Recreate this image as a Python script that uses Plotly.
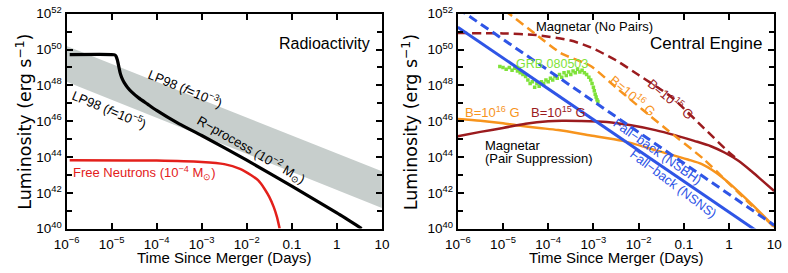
import plotly.graph_objects as go

W, H = 788, 273
# plot-area pixel boxes
L1, R1, L2, R2, T, B = 55, 379, 457, 782, 4, 234

def px(x):
    return x / W

def py(y):
    return 1 - y / H

# ---------------- data (log10 values) ----------------
band_logt = [-6.0, 1.0]
band_up_logL = [50.2, 43.2]
band_lo_logL = [48.2, 41.15]

rproc_logt = [-5.93, -5.0, -4.93, -4.90, -4.87, -4.84, -4.81, -4.77, -4.72, -4.65, -4.55, -4.40, -4.2, -4.0, -3.5, -3.0, -2.0, -1.0, 0.0, 0.55]
rproc_logL = [49.72, 49.72, 49.70, 49.62, 49.40, 49.05, 48.70, 48.40, 48.15, 47.90, 47.62, 47.30, 46.95, 46.60, 45.85, 45.20, 43.82, 42.37, 40.87, 40.0]

neut_logt = [-5.93, -4.0, -3.0, -2.5, -2.15, -1.9, -1.75, -1.6, -1.5, -1.4, -1.33, -1.27]
neut_logL = [43.82, 43.80, 43.72, 43.60, 43.34, 42.98, 42.70, 42.20, 41.77, 41.20, 40.65, 40.0]

nsns_logt = [-6.0, 1.0]
nsns_logL = [51.25, 39.2]
nsbh_logt = [-6.0, 1.0]
nsbh_logL = [52.3, 40.19]

mag16np_logt = [-5.2, -4.88, -4.3, -3.72, -3.06, -2.49, -1.91, -1.41, -0.55, -0.05, 0.5, 0.97, 1.0]
mag16np_logL = [52.65, 52.03, 50.9, 49.8, 49.08, 47.86, 46.64, 45.6, 43.86, 42.64, 41.3, 40.15, 40.08]

mag15np_logt = [-6.0, -5.0, -4.27, -3.5, -3.06, -2.5, -1.99, -1.27, -0.55, 0.02, 0.15]
mag15np_logL = [50.92, 50.9, 50.81, 50.5, 50.12, 49.4, 48.56, 47.34, 45.6, 44.21, 43.95]

mag15ps_logt = [-6.0, -5.5, -5.0, -4.5, -4.0, -3.69, -3.3, -2.70, -2.2, -1.63, -1.2, -0.77, -0.4, -0.1, 0.2, 0.5, 0.75, 1.0]
mag15ps_logL = [45.16, 45.40, 45.62, 45.85, 45.99, 46.02, 46.01, 45.95, 45.78, 45.50, 45.22, 44.90, 44.60, 44.25, 43.80, 43.20, 42.65, 42.10]

mag16ps_logt = [-6.0, -5.5, -5.0, -4.7, -4.2, -3.78, -3.06, -2.35, -1.63, -0.91, -0.6, -0.3, 0.0, 0.3, 0.65, 1.0]
mag16ps_logL = [46.12, 46.02, 45.88, 45.77, 45.62, 45.50, 45.20, 44.90, 44.38, 43.86, 43.60, 43.15, 42.55, 41.85, 41.00, 40.10]

grb_logt = [-5.07, -5.0, -4.93, -4.86, -4.80, -4.74, -4.68, -4.62, -4.56, -4.50, -4.45, -4.40, -4.35, -4.30,
            -4.25, -4.20, -4.15, -4.10, -4.05, -4.00, -3.95, -3.90, -3.85, -3.80, -3.75, -3.70, -3.65, -3.60,
            -3.55, -3.50, -3.45, -3.40, -3.35, -3.30, -3.25, -3.20, -3.15, -3.10, -3.06, -3.03, -3.00, -2.98,
            -2.96, -2.94, -2.92, -2.90]
grb_logL = [49.05, 49.00, 48.90, 49.00, 48.85, 48.95, 48.80, 48.70, 48.60, 48.50, 48.30, 48.10, 48.20, 47.90,
            48.10, 47.95, 48.20, 48.10, 48.30, 48.20, 48.40, 48.30, 48.50, 48.40, 48.60, 48.45, 48.70, 48.55,
            48.75, 48.60, 48.80, 48.70, 48.90, 48.75, 48.85, 48.70, 48.60, 48.45, 48.30, 48.10, 47.90, 47.70,
            47.50, 47.35, 47.20, 47.10]

x_tick_logs = [-6, -5, -4, -3, -2, -1, 0, 1]
x_tick_text = ["10<sup>−6</sup>", "10<sup>−5</sup>", "10<sup>−4</sup>", "10<sup>−3</sup>",
               "10<sup>−2</sup>", "0.1", "1", "10"]
y_major_logs = [40, 42, 44, 46, 48, 50, 52]
y_major_text = ["10<sup>%d</sup>" % e for e in y_major_logs]
y_minor_logs = [41, 43, 45, 47, 49, 51]

# ---------------- colours ----------------
C_BAND = "#c7cecc"
C_BLACK = "#000000"
C_RED = "#e3201b"
C_BLUE = "#2f55e6"
C_ORANGE = "#f7941d"
C_DKRED = "#9b1b1e"
C_GREEN = "#7fe23a"

def p10(a):
    return [10.0 ** v for v in a]

fig = go.Figure()

# left panel
fig.add_trace(go.Scatter(x=p10(band_logt), y=p10(band_lo_logL), mode="lines",
                         line=dict(width=0, color=C_BAND), xaxis="x", yaxis="y", showlegend=False,
                         hoverinfo="skip"))
fig.add_trace(go.Scatter(x=p10(band_logt), y=p10(band_up_logL), mode="lines", fill="tonexty",
                         fillcolor=C_BAND, line=dict(width=0, color=C_BAND), xaxis="x", yaxis="y",
                         showlegend=False, hoverinfo="skip"))
fig.add_trace(go.Scatter(x=p10(neut_logt), y=p10(neut_logL), mode="lines",
                         line=dict(width=2.5, color=C_RED, shape="spline", smoothing=0.6),
                         xaxis="x", yaxis="y", showlegend=False))
fig.add_trace(go.Scatter(x=p10(rproc_logt), y=p10(rproc_logL), mode="lines",
                         line=dict(width=3.2, color=C_BLACK, shape="spline", smoothing=0.5),
                         xaxis="x", yaxis="y", showlegend=False))

# right panel
DASH = "9px,5px"
fig.add_trace(go.Scatter(x=p10(mag16ps_logt), y=p10(mag16ps_logL), mode="lines",
                         line=dict(width=2.5, color=C_ORANGE, shape="spline", smoothing=0.8),
                         xaxis="x2", yaxis="y2", showlegend=False))
fig.add_trace(go.Scatter(x=p10(mag15ps_logt), y=p10(mag15ps_logL), mode="lines",
                         line=dict(width=2.5, color=C_DKRED, shape="spline", smoothing=0.8),
                         xaxis="x2", yaxis="y2", showlegend=False))
fig.add_trace(go.Scatter(x=p10(mag15np_logt), y=p10(mag15np_logL), mode="lines",
                         line=dict(width=2.5, color=C_DKRED, dash=DASH, shape="spline", smoothing=0.6),
                         xaxis="x2", yaxis="y2", showlegend=False))
fig.add_trace(go.Scatter(x=p10(mag16np_logt), y=p10(mag16np_logL), mode="lines",
                         line=dict(width=2.5, color=C_ORANGE, dash=DASH, shape="spline", smoothing=0.6),
                         xaxis="x2", yaxis="y2", showlegend=False))
fig.add_trace(go.Scatter(x=p10(grb_logt), y=p10(grb_logL), mode="markers",
                         marker=dict(size=3.5, color=C_GREEN, symbol="square"),
                         xaxis="x2", yaxis="y2", showlegend=False))
fig.add_trace(go.Scatter(x=p10(nsbh_logt), y=p10(nsbh_logL), mode="lines",
                         line=dict(width=3, color=C_BLUE, dash=DASH),
                         xaxis="x2", yaxis="y2", showlegend=False))
fig.add_trace(go.Scatter(x=p10(nsns_logt), y=p10(nsns_logL), mode="lines",
                         line=dict(width=3, color=C_BLUE),
                         xaxis="x2", yaxis="y2", showlegend=False))

FONT = "Liberation Sans, Arial, sans-serif"
WFONT = "DejaVu Sans, sans-serif"

def xaxis_cfg(l, r, anchor):
    return dict(type="log", domain=[px(l), px(r)], anchor=anchor, range=[-6.00001, 1.00001],
                tickvals=p10(x_tick_logs), ticktext=x_tick_text, ticklabeloverflow="allow",
                ticks="inside", ticklen=6, tickwidth=1.5, tickcolor="black", ticklabelstandoff=2,
                showline=True, linecolor="black", linewidth=2, mirror="ticks",
                showgrid=False, zeroline=False, tickfont=dict(size=13.5, color="black", family=FONT))

def yaxis_cfg(anchor):
    return dict(type="log", domain=[py(B), py(T)], anchor=anchor, range=[39.99999, 52.00001],
                tickvals=p10(y_major_logs), ticktext=y_major_text, ticklabeloverflow="allow",
                ticks="inside", ticklen=6, tickwidth=1.5, tickcolor="black",
                minor=dict(tickvals=p10(y_minor_logs), ticks="inside", ticklen=5, tickwidth=1.5,
                           tickcolor="black", showgrid=False),
                showline=True, linecolor="black", linewidth=2, mirror="ticks",
                showgrid=False, zeroline=False, tickfont=dict(size=13.5, color="black", family=FONT))

annotations = []

def ann(text, x, y, size=13, color="black", angle=0, xanchor="center", yanchor="middle", family=FONT):
    annotations.append(dict(text=text, x=px(x), y=py(y), xref="paper", yref="paper",
                            showarrow=False, textangle=angle, xanchor=xanchor, yanchor=yanchor,
                            borderpad=0, font=dict(size=size, color=color, family=family)))

# axis titles
ann("Time Since Merger (Days)", (L1 + R1) / 2, 255, size=15, yanchor="top")
ann("Time Since Merger (Days)", (L2 + R2) / 2, 255, size=15, yanchor="top")
ann("Luminosity (erg s<sup>−1</sup>)", 11, 120, size=17.5, angle=-90, family=WFONT)
ann("Luminosity (erg s<sup>−1</sup>)", 408, 120, size=17.5, angle=-90, family=WFONT)

# left panel labels
ann("Radioactivity", 320, 36, size=16)
ann("LP98 (<i>f</i>=10<sup>−3</sup>)", 177, 84, size=13, angle=22.5)
ann("LP98 (<i>f</i>=10<sup>−5</sup>)", 99, 106, size=13, angle=22.5)
ann("R−process (10<sup>−2</sup> M<sub>⊙</sub>)", 245, 150, size=13, angle=30)
ann("Free Neutrons (10<sup>−4</sup> M<sub>⊙</sub>)", 61, 174, size=13, color=C_RED, xanchor="left")

# right panel labels
ann("Magnetar (No Pairs)", 597, 18, size=13)
ann("Central Engine", 712, 36, size=17)
ann("GRB 080503", 554, 58, size=12.5, color=C_GREEN)
ann("B=10<sup>16</sup> G", 637, 91, size=13, color=C_ORANGE, angle=40)
ann("B=10<sup>15</sup> G", 677, 95, size=13, color=C_DKRED, angle=40)
ann("B=10<sup>16</sup> G", 463, 109, size=13, color=C_ORANGE, xanchor="left")
ann("B=10<sup>15</sup> G", 531, 109, size=13, color=C_DKRED, xanchor="left")
ann("Magnetar", 484, 145, size=13, xanchor="left")
ann("(Pair Suppression)", 484, 159, size=13, xanchor="left")
ann("Fall−back (NSBH)", 662, 152, size=13, color=C_BLUE, angle=35)
ann("Fall−back (NSNS)", 678, 186, size=13, color=C_BLUE, angle=37)

fig.update_layout(
    width=W, height=H, margin=dict(l=0, r=0, t=0, b=0),
    paper_bgcolor="white", plot_bgcolor="white",
    xaxis=xaxis_cfg(L1, R1, "y"), yaxis=yaxis_cfg("x"),
    xaxis2=xaxis_cfg(L2, R2, "y2"), yaxis2=yaxis_cfg("x2"),
    annotations=annotations, showlegend=False,
    font=dict(family=FONT, color="black"),
)

fig.write_html("out.html", config={"displayModeBar": False},
               post_script="document.body.style.margin='0';document.body.style.overflow='hidden';")
